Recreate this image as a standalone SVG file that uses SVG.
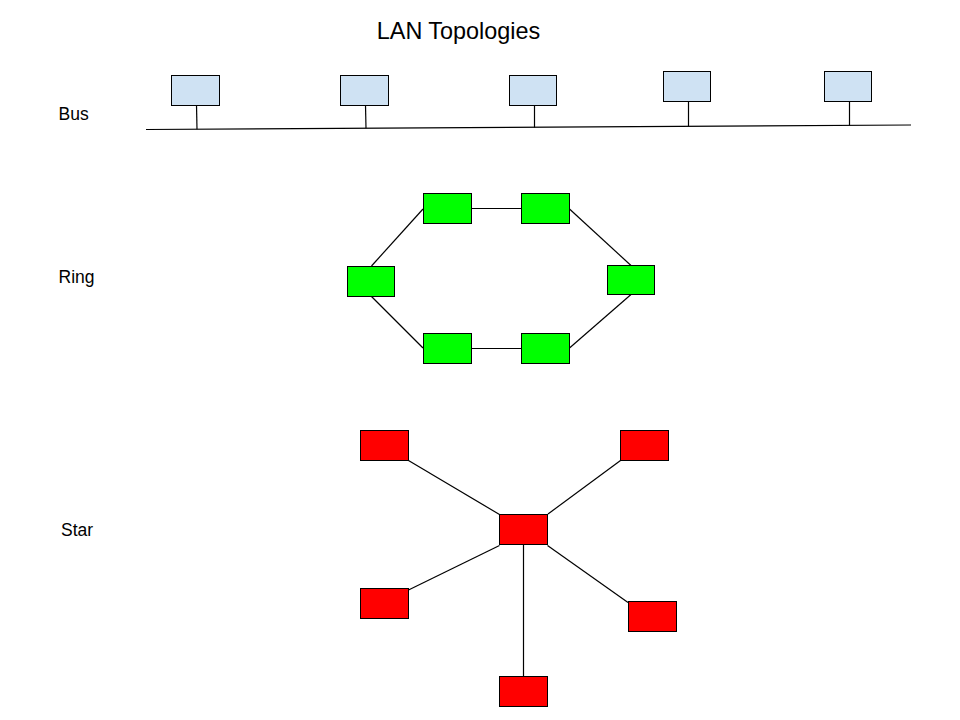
<svg xmlns="http://www.w3.org/2000/svg" width="960" height="720" viewBox="0 0 960 720">
<style>
text{font-family:"Liberation Sans",Arial,sans-serif;fill:#000}
.bus{fill:#cfe2f3;stroke:#000;stroke-width:1}
.ring{fill:#00ff00;stroke:#000;stroke-width:1}
.star{fill:#ff0000;stroke:#000;stroke-width:1}
.c line{stroke:#000;stroke-width:1.2;fill:none}
</style>
<rect width="960" height="720" fill="#fff"/>
<text x="458.5" y="39" font-size="23.4" text-anchor="middle">LAN Topologies</text>
<text x="58.5" y="120" font-size="17.5">Bus</text>
<text x="58.5" y="283" font-size="17.5">Ring</text>
<text x="61" y="536" font-size="17.5">Star</text>
<g id="connectors" class="c">
<line x1="146" y1="129.5" x2="911" y2="125"/>
<line x1="196.5" y1="105" x2="197" y2="129.3"/>
<line x1="365.5" y1="105" x2="366" y2="128.3"/>
<line x1="534.5" y1="105" x2="534.5" y2="127.5"/>
<line x1="688.5" y1="101.5" x2="688.5" y2="126.3"/>
<line x1="849.5" y1="101.5" x2="849.5" y2="125.4"/>
<line x1="423" y1="209" x2="371.5" y2="266"/>
<line x1="471.5" y1="208.5" x2="521.5" y2="208.5"/>
<line x1="569.5" y1="209" x2="631" y2="265.5"/>
<line x1="631" y1="294.5" x2="569.5" y2="348"/>
<line x1="471.5" y1="348.5" x2="521.5" y2="348.5"/>
<line x1="371.5" y1="296.5" x2="423" y2="348"/>
<line x1="408.5" y1="460.5" x2="499.5" y2="514.5"/>
<line x1="620.5" y1="460.5" x2="548" y2="514"/>
<line x1="408.5" y1="590" x2="499.5" y2="545.5"/>
<line x1="547.5" y1="545.5" x2="628" y2="602.5"/>
<line x1="523.5" y1="544.5" x2="523.5" y2="676.5"/>
</g>
<g id="bus1"><rect class="bus" x="171.5" y="75.5" width="48" height="30"/></g>
<g id="bus2"><rect class="bus" x="340.5" y="75.5" width="48" height="30"/></g>
<g id="bus3"><rect class="bus" x="509.5" y="75.5" width="47" height="30"/></g>
<g id="bus4"><rect class="bus" x="663.5" y="71.5" width="47" height="30"/></g>
<g id="bus5"><rect class="bus" x="824.5" y="71.5" width="47" height="30"/></g>
<g id="ring-tl"><rect class="ring" x="423.5" y="193.5" width="48" height="30"/></g>
<g id="ring-tr"><rect class="ring" x="521.5" y="193.5" width="48" height="30"/></g>
<g id="ring-l"><rect class="ring" x="347.5" y="266.5" width="47" height="30"/></g>
<g id="ring-r"><rect class="ring" x="607.5" y="265.5" width="47" height="29"/></g>
<g id="ring-bl"><rect class="ring" x="423.5" y="333.5" width="48" height="30"/></g>
<g id="ring-br"><rect class="ring" x="521.5" y="333.5" width="48" height="30"/></g>
<g id="star-center"><rect class="star" x="499.5" y="514.5" width="48" height="30"/></g>
<g id="star-tl"><rect class="star" x="360.5" y="430.5" width="48" height="30"/></g>
<g id="star-tr"><rect class="star" x="620.5" y="430.5" width="48" height="30"/></g>
<g id="star-l"><rect class="star" x="360.5" y="588.5" width="48" height="30"/></g>
<g id="star-r"><rect class="star" x="628.5" y="601.5" width="48" height="30"/></g>
<g id="star-b"><rect class="star" x="499.5" y="676.5" width="48" height="30"/></g>
</svg>
